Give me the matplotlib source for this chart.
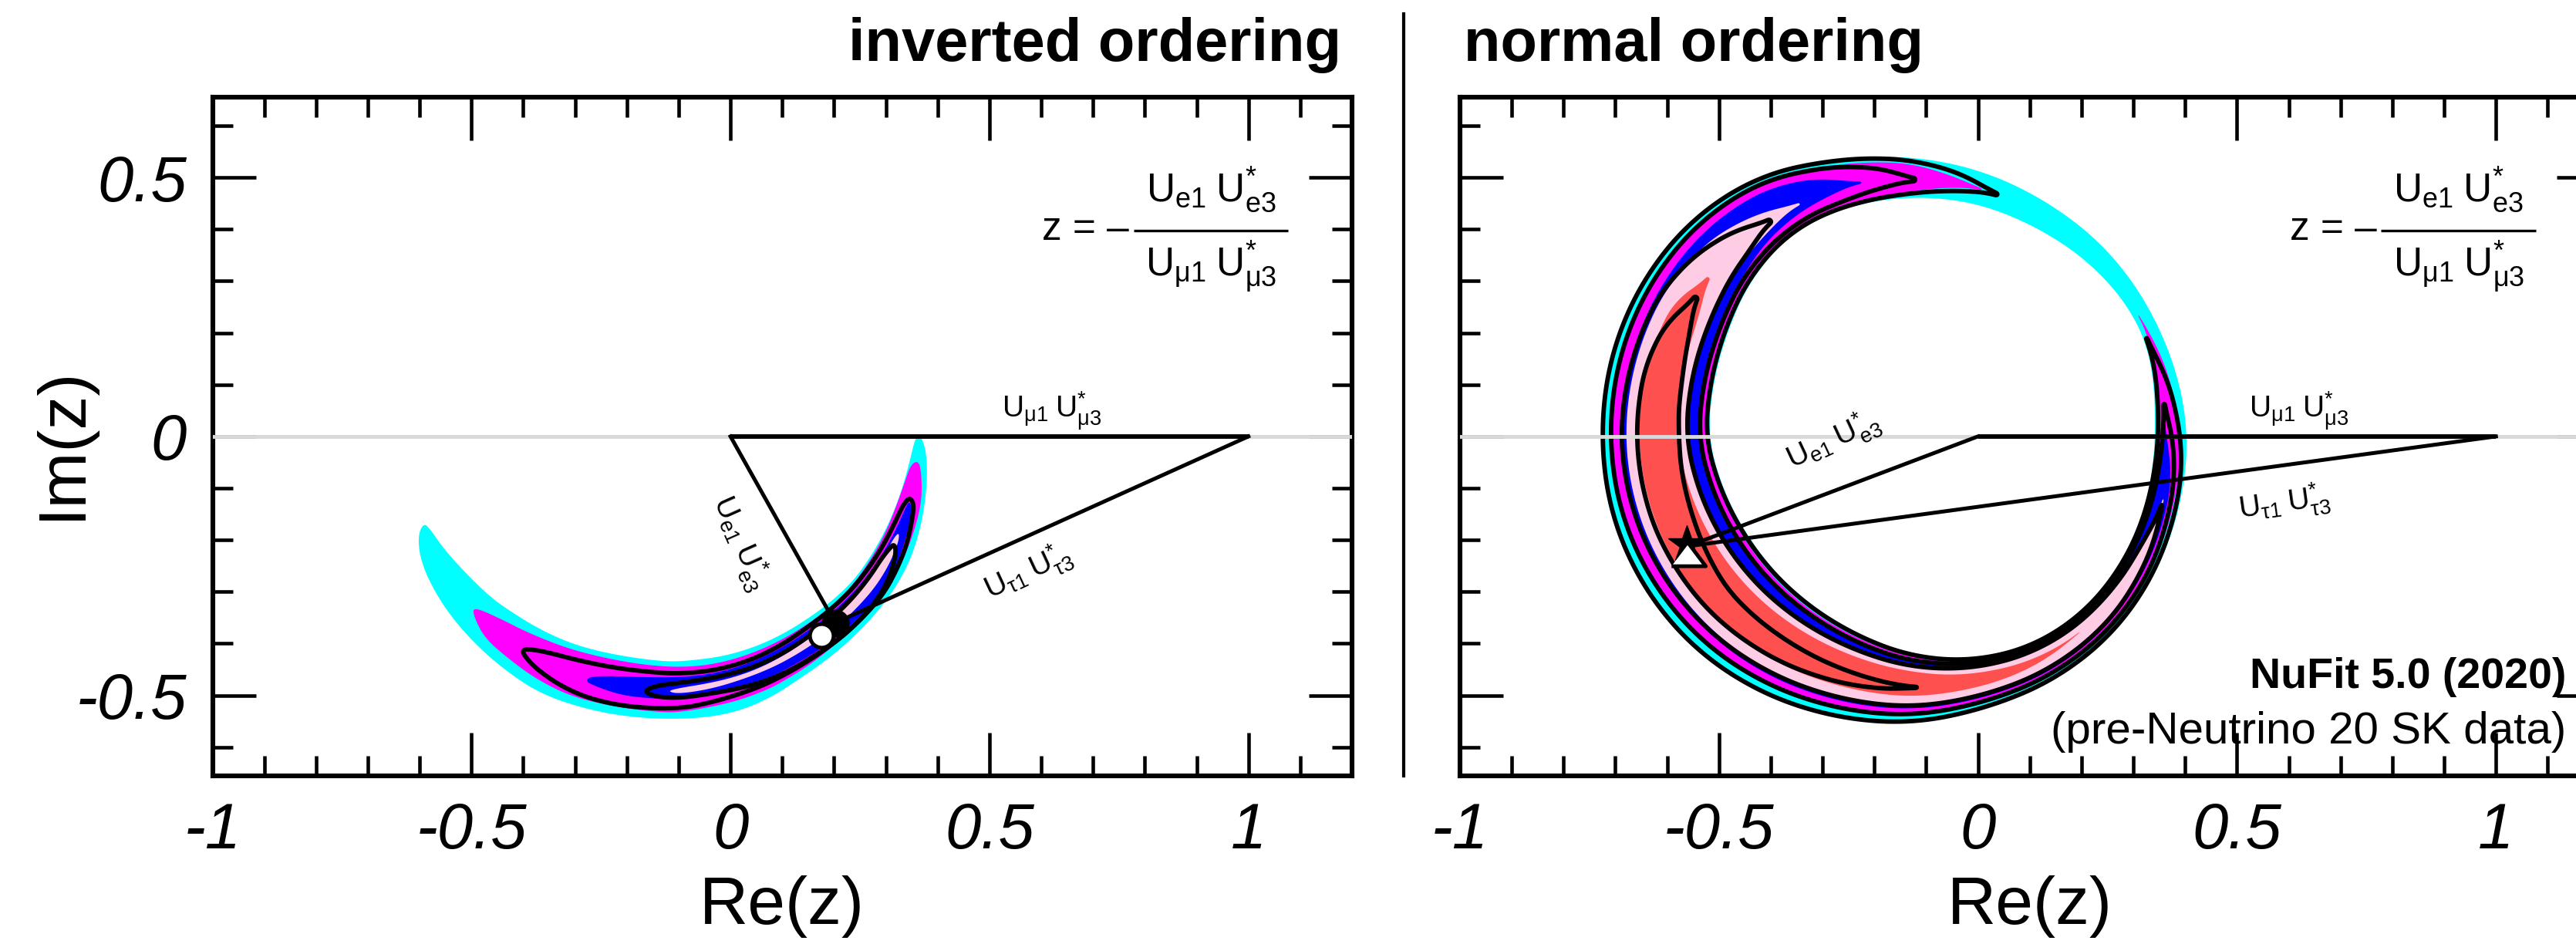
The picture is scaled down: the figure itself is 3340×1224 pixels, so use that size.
import numpy as np
import matplotlib
matplotlib.use('Agg')
import matplotlib.pyplot as plt
from matplotlib.path import Path
from matplotlib.patches import PathPatch, Polygon
from matplotlib.ticker import MultipleLocator, FixedLocator, FixedFormatter
from matplotlib.lines import Line2D

plt.rcParams['font.family'] = ['Liberation Sans', 'DejaVu Sans']
plt.rcParams['mathtext.fontset'] = 'custom'
plt.rcParams['mathtext.rm'] = 'Liberation Sans'
plt.rcParams['mathtext.it'] = 'Liberation Sans:italic'
plt.rcParams['mathtext.bf'] = 'Liberation Sans:bold'
plt.rcParams['mathtext.default'] = 'regular'
plt.rcParams['axes.unicode_minus'] = False

CYAN, MAGENTA, BLUE, PINK, RED = '#00ffff', '#ff00ff', '#0000ff', '#ffcce6', '#ff5050'

# ---------------- axis ticks ----------------
xtick_vals = [-1, -0.5, 0, 0.5, 1]
xtick_text = ['-1', '-0.5', '0', '0.5', '1']
ytick_vals = [-0.5, 0, 0.5]
ytick_text = ['-0.5', '0', '0.5']

# ---------------- inverted ordering (left) : outlines ----------------
cyan_l_x = [-0.592, -0.603, -0.600, -0.584, -0.550, -0.500, -0.440, -0.366, -0.267, -0.168, -0.060, 0.020,
            0.085, 0.130, 0.170, 0.210, 0.250, 0.285, 0.315, 0.343, 0.362, 0.374, 0.380, 0.378, 0.370, 0.363,
            0.355, 0.348, 0.336, 0.321, 0.300, 0.272, 0.238, 0.198, 0.158, 0.108, 0.054, -0.010, -0.078,
            -0.128, -0.217, -0.297, -0.366, -0.426, -0.465, -0.515, -0.555, -0.579]
cyan_l_y = [-0.167, -0.190, -0.230, -0.275, -0.334, -0.394, -0.448, -0.498, -0.530, -0.545, -0.545, -0.530,
            -0.500, -0.470, -0.443, -0.412, -0.375, -0.337, -0.297, -0.248, -0.195, -0.140, -0.081, -0.031,
            -0.005, 0.006, -0.010, -0.040, -0.086, -0.131, -0.180, -0.230, -0.278, -0.316, -0.346, -0.378,
            -0.404, -0.424, -0.433, -0.435, -0.423, -0.404, -0.374, -0.337, -0.309, -0.260, -0.215, -0.180]

mag_l_x = [-0.495, -0.440, -0.391, -0.316, -0.242, -0.168, -0.098, -0.030, 0.040, 0.105, 0.160, 0.200, 0.238,
           0.272, 0.300, 0.320, 0.336, 0.348, 0.361, 0.368, 0.370, 0.356, 0.333, 0.304, 0.269, 0.229, 0.189,
           0.150, 0.110, 0.070, 0.000, -0.098, -0.143, -0.217, -0.306, -0.376, -0.430, -0.475, -0.497]
mag_l_y = [-0.329, -0.354, -0.379, -0.409, -0.428, -0.441, -0.446, -0.440, -0.420, -0.390, -0.355, -0.324,
           -0.285, -0.236, -0.185, -0.135, -0.090, -0.055, -0.047, -0.062, -0.121, -0.180, -0.240, -0.294,
           -0.339, -0.379, -0.413, -0.443, -0.468, -0.490, -0.515, -0.533, -0.532, -0.523, -0.503, -0.468,
           -0.428, -0.389, -0.344]

blue_l_x = [-0.279, -0.267, -0.217, -0.160, -0.098, -0.030, 0.040, 0.105, 0.160, 0.205, 0.248, 0.283, 0.309,
            0.326, 0.341, 0.346, 0.351, 0.343, 0.328, 0.309, 0.279, 0.244, 0.209, 0.170, 0.120, 0.070, 0.021,
            -0.054, -0.098, -0.168, -0.217, -0.272]
blue_l_y = [-0.470, -0.463, -0.463, -0.465, -0.465, -0.458, -0.437, -0.405, -0.368, -0.333, -0.290, -0.243,
            -0.200, -0.165, -0.131, -0.126, -0.140, -0.180, -0.230, -0.275, -0.319, -0.354, -0.384, -0.413,
            -0.443, -0.468, -0.486, -0.500, -0.508, -0.505, -0.498, -0.478]

pink_l_x = [-0.122, -0.100, -0.050, 0.000, 0.050, 0.100, 0.150, 0.195, 0.235, 0.270, 0.298, 0.316, 0.326,
            0.324, 0.305, 0.280, 0.249, 0.214, 0.175, 0.130, 0.080, 0.021, -0.040, -0.100]
pink_l_y = [-0.492, -0.486, -0.478, -0.467, -0.450, -0.425, -0.392, -0.355, -0.315, -0.270, -0.228, -0.195,
            -0.185, -0.206, -0.250, -0.290, -0.326, -0.360, -0.390, -0.420, -0.447, -0.470, -0.488, -0.497]

oc_l_x = [-0.401, -0.393, -0.356, -0.292, -0.217, -0.143, -0.098, -0.030, 0.040, 0.100, 0.150, 0.195, 0.235,
          0.270, 0.298, 0.318, 0.332, 0.343, 0.350, 0.354, 0.350, 0.340, 0.322, 0.298, 0.265, 0.228, 0.188,
          0.140, 0.090, 0.040, -0.030, -0.098, -0.192, -0.267, -0.326, -0.376, -0.398]
oc_l_y = [-0.414, -0.410, -0.416, -0.433, -0.448, -0.456, -0.458, -0.452, -0.432, -0.402, -0.368, -0.333,
          -0.295, -0.250, -0.205, -0.165, -0.135, -0.120, -0.122, -0.135, -0.165, -0.210, -0.255, -0.300,
          -0.340, -0.375, -0.408, -0.440, -0.468, -0.490, -0.512, -0.526, -0.523, -0.508, -0.483, -0.448,
          -0.423]

ic_l_x = [-0.168, -0.143, -0.098, -0.030, 0.040, 0.100, 0.150, 0.195, 0.235, 0.268, 0.292, 0.308, 0.316,
          0.320, 0.312, 0.296, 0.272, 0.243, 0.208, 0.168, 0.124, 0.075, 0.020, -0.040, -0.098, -0.143]
ic_l_y = [-0.492, -0.481, -0.476, -0.466, -0.448, -0.420, -0.387, -0.352, -0.313, -0.272, -0.235, -0.215,
          -0.208, -0.222, -0.258, -0.295, -0.330, -0.362, -0.393, -0.420, -0.447, -0.470, -0.486, -0.497,
          -0.505, -0.503]

io_vertex = (0.202, -0.360)      # black dot, apex of the triangle
io_white = (0.176, -0.385)       # open circle

# ---------------- normal ordering (right) : ring read in polar form ----------------
ring_center = (-0.13, 0.0)
ring_theta = [0, 10, 20, 30, 45, 60, 75, 90, 105, 120, 135, 150, 165, 180, 195, 210, 225, 240, 255, 270,
              285, 300, 315, 330, 345]
ring_r_in = [0.470, 0.476, 0.488, 0.488, 0.478, 0.468, 0.465, 0.460, 0.458, 0.452, 0.430, 0.405, 0.392,
             0.388, 0.374, 0.367, 0.368, 0.376, 0.392, 0.418, 0.443, 0.463, 0.472, 0.473, 0.471]
ring_r_out = [0.533, 0.528, 0.523, 0.521, 0.521, 0.521, 0.528, 0.537, 0.552, 0.580, 0.594, 0.598, 0.599,
              0.597, 0.597, 0.592, 0.584, 0.572, 0.560, 0.552, 0.542, 0.543, 0.544, 0.540, 0.535]

# bands: angle (deg) and position across the ring (0 = inner edge, 1 = outer edge)
mag_theta = [74, 80, 90, 100, 120, 150, 180, 210, 240, 270, 300, 330, 350, 360, 375, 388]
mag_lo = [0.50, 0.35, 0.15, 0.06, 0.05, 0.04, 0.04, 0.04, 0.05, 0.05, 0.07, 0.08, 0.10, 0.10, 0.15, 0.30]
mag_hi = [0.50, 0.65, 0.85, 0.88, 0.90, 0.90, 0.90, 0.90, 0.90, 0.90, 0.88, 0.85, 0.82, 0.80, 0.65, 0.30]

blue_theta = [101, 110, 120, 135, 150, 180, 210, 240, 270, 300, 330, 350, 363]
blue_lo = [0.45, 0.30, 0.20, 0.12, 0.10, 0.10, 0.10, 0.10, 0.10, 0.10, 0.10, 0.10, 0.30]
blue_hi = [0.45, 0.70, 0.78, 0.80, 0.81, 0.81, 0.81, 0.81, 0.80, 0.78, 0.70, 0.62, 0.30]

pink_theta = [115.5, 125, 135, 150, 180, 210, 240, 270, 300, 320, 335, 346]
pink_lo = [0.37, 0.25, 0.22, 0.21, 0.21, 0.21, 0.20, 0.20, 0.20, 0.20, 0.25, 0.50]
pink_hi = [0.37, 0.55, 0.68, 0.75, 0.77, 0.77, 0.77, 0.75, 0.72, 0.65, 0.58, 0.50]

red_theta = [141.8, 150, 165, 180, 210, 240, 270, 290, 300, 310.7]
red_lo = [0.43, 0.33, 0.30, 0.29, 0.28, 0.27, 0.26, 0.32, 0.36, 0.40]
red_hi = [0.43, 0.62, 0.65, 0.65, 0.66, 0.66, 0.62, 0.56, 0.50, 0.40]

c1_theta = [70.3, 80, 90, 100, 120, 150, 180, 210, 240, 270, 300, 330, 350, 360, 372, 382.6]
c1_lo = [0.50, 0.25, 0.10, 0.04, 0.03, 0.03, 0.024, 0.02, 0.02, 0.02, 0.03, 0.04, 0.06, 0.10, 0.12, 0.15]
c1_hi = [0.50, 0.80, 0.93, 0.97, 0.98, 0.985, 0.986, 0.985, 0.985, 0.985, 0.98, 0.95, 0.90, 0.80, 0.60, 0.15]

c2_theta = [89, 95, 105, 120, 150, 180, 210, 240, 270, 300, 330, 350, 360, 367.3]
c2_lo = [0.45, 0.30, 0.15, 0.10, 0.09, 0.09, 0.09, 0.09, 0.10, 0.10, 0.12, 0.18, 0.24, 0.33]
c2_hi = [0.45, 0.70, 0.85, 0.90, 0.91, 0.91, 0.90, 0.89, 0.88, 0.86, 0.82, 0.70, 0.55, 0.33]

c3_theta = [123, 130, 140, 150, 180, 210, 240, 270, 300, 320, 335, 344.7]
c3_lo = [0.36, 0.25, 0.22, 0.21, 0.206, 0.20, 0.19, 0.18, 0.18, 0.20, 0.28, 0.50]
c3_hi = [0.36, 0.55, 0.70, 0.78, 0.813, 0.80, 0.78, 0.76, 0.72, 0.68, 0.60, 0.50]

c4_theta = [147, 155, 165, 180, 200, 220, 240, 255, 265, 271.4]
c4_lo = [0.44, 0.35, 0.30, 0.282, 0.34, 0.42, 0.43, 0.45, 0.47, 0.49]
c4_hi = [0.44, 0.60, 0.66, 0.670, 0.68, 0.67, 0.64, 0.60, 0.55, 0.49]

no_vertex = (-0.560, -0.212)
no_star = (-0.563, -0.208)
no_triangle = (-0.559, -0.228)

LW_CONTOUR = 4.2
LW_TRI = 3.6


# ---------------- helpers ----------------
def chaikin(x, y, n=3):
    p = np.column_stack([x, y]).astype(float)
    for _ in range(n):
        q = np.roll(p, -1, axis=0)
        new = np.empty((2 * len(p), 2))
        new[0::2] = 0.75 * p + 0.25 * q
        new[1::2] = 0.25 * p + 0.75 * q
        p = new
    return p


def run_mean(a, w, wrap=False):
    k = np.ones(w) / w
    h = w // 2
    if wrap:
        a2 = np.concatenate([a[-h:], a, a[:h]])
    else:
        a2 = np.pad(a, h, mode='edge')
    return np.convolve(a2, k, mode='valid')


_tt = np.arange(360.0)
_rin = run_mean(np.interp(_tt, ring_theta, ring_r_in, period=360), 15, wrap=True)
_rout = run_mean(np.interp(_tt, ring_theta, ring_r_out, period=360), 15, wrap=True)


def ring_xy(t, s):
    rin = np.interp(np.mod(t, 360), _tt, _rin, period=360)
    rout = np.interp(np.mod(t, 360), _tt, _rout, period=360)
    r = rin + s * (rout - rin)
    a = np.deg2rad(t)
    return ring_center[0] + r * np.cos(a), ring_center[1] + r * np.sin(a)


def band_outline(theta, s_lo, s_hi):
    t = np.linspace(theta[0], theta[-1], int(abs(theta[-1] - theta[0])) + 1)
    lo = run_mean(np.interp(t, theta, s_lo), 9)
    hi = run_mean(np.interp(t, theta, s_hi), 9)
    xh, yh = ring_xy(t, hi)
    xl, yl = ring_xy(t, lo)
    x = np.concatenate([xh, xl[::-1]])
    y = np.concatenate([yh, yl[::-1]])
    return chaikin(x, y, 2)


def fill(ax, pts, color, z=1):
    ax.add_patch(Polygon(pts, closed=True, facecolor=color, edgecolor='none', zorder=z))


def contour(ax, pts, z=2):
    ax.add_patch(Polygon(pts, closed=True, facecolor='none', edgecolor='black', lw=LW_CONTOUR,
                         joinstyle='round', zorder=z))


def style_axes(ax, ylabels=True):
    ax.set_xlim(-1, 1.2)
    ax.set_ylim(-0.655, 0.655)
    ax.set_aspect('equal', adjustable='box')
    for sp in ax.spines.values():
        sp.set_linewidth(4.4)
    ax.xaxis.set_major_locator(FixedLocator(xtick_vals))
    ax.xaxis.set_major_formatter(FixedFormatter(xtick_text))
    ax.yaxis.set_major_locator(FixedLocator(ytick_vals))
    ax.yaxis.set_major_formatter(FixedFormatter(ytick_text))
    ax.xaxis.set_minor_locator(MultipleLocator(0.1))
    ax.yaxis.set_minor_locator(MultipleLocator(0.1))
    ax.tick_params(which='both', direction='in', top=True, right=True, width=3.3)
    ax.tick_params(which='major', length=40, labelsize=60, pad=24)
    ax.tick_params(which='minor', length=19)
    ax.tick_params(axis='y', labelleft=ylabels)
    for lab in ax.get_xticklabels() + ax.get_yticklabels():
        lab.set_fontstyle('italic')
    ax.set_xlabel('Re(z)', fontsize=63)
    ax.xaxis.set_label_coords(0.5, -0.147)
    if ylabels:
        ax.set_ylabel('Im(z)', fontsize=63)
        ax.yaxis.set_label_coords(-0.104, 0.49)


def formula(ax):
    fs = 37
    ax.text(0.77, 0.380, 'z = \u2013', fontsize=fs, ha='right', va='baseline')
    ax.text(0.928, 0.453, r'$U_{e1}\;U^{*}_{e3}$', fontsize=fs, ha='center', va='baseline')
    ax.text(0.928, 0.309, r'$U_{\mu 1}\;U^{*}_{\mu 3}$', fontsize=fs, ha='center', va='baseline')
    ax.plot([0.778, 1.077], [0.397, 0.397], color='black', lw=2.4, solid_capstyle='butt')
    ax.text(0.62, 0.035, r'$U_{\mu 1}\;U^{*}_{\mu 3}$', fontsize=28, ha='center', va='baseline')


fig = plt.figure(figsize=(33.4, 12.24), dpi=100)
axL = fig.add_axes([0.08249, 0.17810, 0.44237, 0.71920])
axR = fig.add_axes([0.56677, 0.17810, 0.44237, 0.71920])

# ---- left panel ----
fill(axL, chaikin(cyan_l_x, cyan_l_y), CYAN)
fill(axL, chaikin(mag_l_x, mag_l_y), MAGENTA)
fill(axL, chaikin(blue_l_x, blue_l_y), BLUE)
fill(axL, chaikin(pink_l_x, pink_l_y), PINK)
contour(axL, chaikin(oc_l_x, oc_l_y))
contour(axL, chaikin(ic_l_x, ic_l_y))
axL.axhline(0, color='#d9d9d9', lw=3.5, zorder=3)
axL.plot([0, 1], [0, 0], color='black', lw=4.2, zorder=4, solid_capstyle='butt')
axL.plot([0, io_vertex[0]], [0, io_vertex[1]], color='black', lw=LW_TRI, zorder=4)
axL.plot([1, io_vertex[0]], [0, io_vertex[1]], color='black', lw=LW_TRI, zorder=4)
axL.plot(*io_vertex, 'o', color='black', ms=25, zorder=5)
axL.plot(*io_white, 'o', mfc='white', mec='black', mew=3.5, ms=22, zorder=6)
formula(axL)
axL.text(0.02, -0.205, r'$U_{e1}\;U^{*}_{e3}$', fontsize=28, rotation=-66, ha='center', va='center',
         rotation_mode='anchor')
axL.text(0.574, -0.262, r'$U_{\tau 1}\;U^{*}_{\tau 3}$', fontsize=28, rotation=25, ha='center',
         va='center', rotation_mode='anchor')
style_axes(axL, True)

# ---- right panel ----
tt = np.arange(0, 360, 1.0)
xo, yo = ring_xy(tt, np.ones_like(tt))
xi, yi = ring_xy(tt[::-1], np.zeros_like(tt))
verts = np.concatenate([np.column_stack([xo, yo]), [[xo[0], yo[0]]],
                        np.column_stack([xi, yi]), [[xi[0], yi[0]]]])
codes = ([Path.MOVETO] + [Path.LINETO] * (len(xo) - 1) + [Path.CLOSEPOLY]
         + [Path.MOVETO] + [Path.LINETO] * (len(xi) - 1) + [Path.CLOSEPOLY])
axR.add_patch(PathPatch(Path(verts, codes), facecolor=CYAN, edgecolor='none', zorder=1))
fill(axR, band_outline(mag_theta, mag_lo, mag_hi), MAGENTA)
fill(axR, band_outline(blue_theta, blue_lo, blue_hi), BLUE)
fill(axR, band_outline(pink_theta, pink_lo, pink_hi), PINK)
fill(axR, band_outline(red_theta, red_lo, red_hi), RED)
for th, lo, hi in [(c1_theta, c1_lo, c1_hi), (c2_theta, c2_lo, c2_hi),
                   (c3_theta, c3_lo, c3_hi), (c4_theta, c4_lo, c4_hi)]:
    contour(axR, band_outline(th, lo, hi))
axR.axhline(0, color='#d9d9d9', lw=3.5, zorder=3)
axR.plot([0, 1], [0, 0], color='black', lw=4.2, zorder=4, solid_capstyle='butt')
axR.plot([0, no_vertex[0]], [0, no_vertex[1]], color='black', lw=LW_TRI, zorder=4)
axR.plot([1, no_vertex[0]], [0, no_vertex[1]], color='black', lw=LW_TRI, zorder=4)
axR.plot(*no_star, '*', color='black', ms=36, zorder=5)
axR.plot(*no_triangle, marker=[(-1, -0.66), (1, -0.66), (0, 0.66)], mfc='white', mec='black', mew=3.5,
         ms=32, zorder=6, ls='none')
formula(axR)
axR.text(-0.28, -0.008, r'$U_{e1}\;U^{*}_{e3}$', fontsize=28, rotation=25, ha='center', va='center',
         rotation_mode='anchor')
axR.text(0.592, -0.129, r'$U_{\tau 1}\;U^{*}_{\tau 3}$', fontsize=28, rotation=8, ha='center',
         va='center', rotation_mode='anchor')
style_axes(axR, False)

# ---- figure texts ----
fig.text(0.5207, 0.9355, 'inverted ordering', fontsize=56, weight='bold', ha='right', va='baseline')
fig.text(0.5683, 0.9355, 'normal ordering', fontsize=56, weight='bold', ha='left', va='baseline')
fig.add_artist(Line2D([0.5449, 0.5449], [0.9853, 0.1781], color='black', lw=3.0))
fig.text(0.9961, 0.2712, 'NuFit 5.0 (2020)', fontsize=40, weight='bold', ha='right', va='baseline')
fig.text(0.9961, 0.2124, '(pre-Neutrino 20 SK data)', fontsize=42, ha='right', va='baseline')

fig.savefig('out.png', dpi=100)
